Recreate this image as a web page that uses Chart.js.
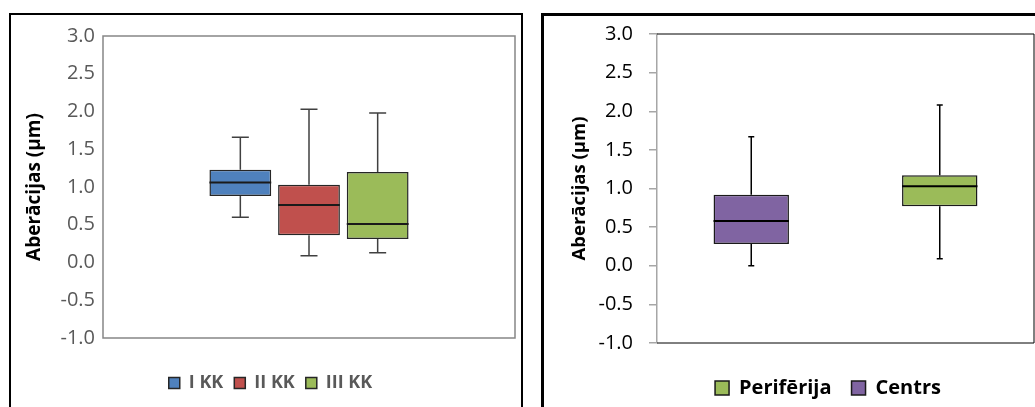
<!DOCTYPE html>
<html>
<head>
<meta charset="utf-8">
<script src="https://cdn.jsdelivr.net/npm/chart.js@4.4.1/dist/chart.umd.min.js"></script>
<style>
  body { margin: 0; background: #fff; width: 1035px; height: 407px; overflow: hidden; position: relative; }
  .panel { position: absolute; box-sizing: border-box; border: 2px solid #000; background: #fff; }
  #panelLeft { left: 9px; top: 13px; width: 514px; height: 420px; }
  #panelRight { left: 541px; top: 13px; width: 520px; height: 420px; border-width: 3px; }
  .wrap { position: absolute; }
  #wrapLeft { left: 12px; top: 16px; width: 508px; height: 400px; }
  #wrapRight { left: 544px; top: 16px; width: 491px; height: 400px; }
</style>
</head>
<body>
<div class="panel" id="panelLeft"></div>
<div class="panel" id="panelRight"></div>
<div class="wrap" id="wrapLeft"><canvas id="kkChart" width="508" height="400"></canvas></div>
<div class="wrap" id="wrapRight"><canvas id="zoneChart" width="491" height="400"></canvas></div>
<script>
// left chart: three groups
const kkLabels = ['I KK', 'II KK', 'III KK'];
const kkMin = [0.60, 0.09, 0.13];
const kkQ1 = [0.88, 0.36, 0.31];
const kkMedian = [1.06, 0.76, 0.51];
const kkQ3 = [1.23, 1.03, 1.20];
const kkMax = [1.66, 2.03, 1.98];
const kkColors = ['#4f81bd', '#c0504d', '#9bbb59'];

// right chart: periphery vs centre (Centrs sits in the first slot)
const zoneLabels = ['Perifērija', 'Centrs'];
const zoneSlot = [1, 0];
const zoneMin = [0.09, 0.00];
const zoneQ1 = [0.77, 0.28];
const zoneMedian = [1.03, 0.58];
const zoneQ3 = [1.17, 0.92];
const zoneMax = [2.08, 1.67];
const zoneColors = ['#9bbb59', '#8064a2'];

const yTicks = [-1.0, -0.5, 0.0, 0.5, 1.0, 1.5, 2.0, 2.5, 3.0];
const yTitle = 'Aberācijas (µm)';
const fontFamily = "'Open Sans', 'Noto Sans', sans-serif";

// whiskers + median line for every floating bar
const boxWhiskers = {
    id: 'boxWhiskers',
    afterDatasetsDraw(chart, args, opts) {
        const ctx = chart.ctx;
        const yScale = chart.scales.y;
        chart.data.datasets.forEach((ds, di) => {
            const meta = chart.getDatasetMeta(di);
            meta.data.forEach((bar, i) => {
                const s = ds.stats[i];
                if (!s) return;
                const x = bar.x;
                const half = bar.width / 2;
                const yQ1 = yScale.getPixelForValue(ds.data[i][0]);
                const yQ3 = yScale.getPixelForValue(ds.data[i][1]);
                const yMin = yScale.getPixelForValue(s.min);
                const yMax = yScale.getPixelForValue(s.max);
                const yMed = yScale.getPixelForValue(s.median);
                ctx.save();
                ctx.strokeStyle = opts.color;
                ctx.lineWidth = opts.lineWidth;
                ctx.beginPath();
                ctx.moveTo(x, yQ3); ctx.lineTo(x, yMax);
                ctx.moveTo(x, yQ1); ctx.lineTo(x, yMin);
                ctx.moveTo(x - opts.cap / 2, yMax); ctx.lineTo(x + opts.cap / 2, yMax);
                ctx.moveTo(x - opts.cap / 2, yMin); ctx.lineTo(x + opts.cap / 2, yMin);
                ctx.stroke();
                ctx.strokeStyle = opts.medianColor;
                ctx.lineWidth = opts.medianWidth;
                ctx.beginPath();
                ctx.moveTo(x - half, yMed); ctx.lineTo(x + half, yMed);
                ctx.stroke();
                ctx.restore();
            });
        });
    }
};

// frame round the plot area
const plotFrame = {
    id: 'plotFrame',
    beforeDatasetsDraw(chart, args, opts) {
        const {ctx, chartArea: a} = chart;
        ctx.save();
        ctx.strokeStyle = opts.color;
        ctx.lineWidth = opts.lineWidth;
        ctx.beginPath();
        if (opts.full) {
            ctx.rect(a.left, a.top, a.right - a.left, a.bottom - a.top);
        } else {
            ctx.moveTo(a.left, a.top); ctx.lineTo(a.right, a.top);
            ctx.lineTo(a.right, a.bottom); ctx.lineTo(a.left, a.bottom);
        }
        ctx.stroke();
        ctx.restore();
    }
};

// nudge the legend sideways (the original is not centred on the canvas)
const legendShift = {
    id: 'legendShift',
    afterLayout(chart, args, opts) {
        const lg = chart.legend;
        if (lg && opts.dx) {
            lg.left += opts.dx;
            lg.right += opts.dx;
        }
    }
};

function yAxis(color, size, width, drawTicks, titlePad, titleSize, titleColor, tickPad) {
    return {
        min: -1, max: 3,
        afterBuildTicks: (s) => { s.ticks = yTicks.map(v => ({value: v})); },
        afterFit: (s) => { s.width = width; s.paddingTop = 0; s.paddingBottom = 0; },
        ticks: {
            color: color, padding: tickPad,
            font: {family: fontFamily, size: size},
            callback: (v) => Number(v).toFixed(1)
        },
        grid: {drawOnChartArea: false, drawTicks: drawTicks, tickLength: 8, color: '#a6a6a6', lineWidth: 1.5},
        border: {display: drawTicks, color: '#a6a6a6', width: 1.5},
        title: {
            display: true, text: yTitle, color: titleColor,
            padding: {top: titlePad, bottom: 0},
            font: {family: fontFamily, size: titleSize, weight: 'bold'}
        }
    };
}

function hiddenX(height) {
    return {
        type: 'category',
        ticks: {display: false},
        grid: {display: false},
        border: {display: false},
        afterFit: (s) => { s.height = height; }
    };
}

new Chart(document.getElementById('kkChart'), {
    type: 'bar',
    data: {
        labels: [''],
        datasets: kkLabels.map((name, i) => ({
            label: name,
            data: [[kkQ1[i], kkQ3[i]]],
            stats: [{min: kkMin[i], median: kkMedian[i], max: kkMax[i]}],
            backgroundColor: kkColors[i],
            borderColor: '#262626',
            borderWidth: 1.5,
            borderSkipped: false
        }))
    },
    options: {
        responsive: false,
        animation: false,
        categoryPercentage: 0.5,
        barPercentage: 0.9,
        layout: {padding: {left: 14, right: 5, top: 20, bottom: 14}},
        scales: {
            x: hiddenX(25),
            y: yAxis('#595959', 20, 77, false, -3, 19, '#000', 8)
        },
        plugins: {
            legend: {
                position: 'bottom',
                labels: {
                    color: '#595959', boxWidth: 11, boxHeight: 11, padding: 11,
                    font: {family: fontFamily, size: 18, weight: 'bold'}
                }
            },
            tooltip: {enabled: false},
            boxWhiskers: {color: '#404040', lineWidth: 1.5, cap: 17, medianColor: '#1a1a1a', medianWidth: 2},
            plotFrame: {color: '#868686', lineWidth: 1.5, full: true}
        }
    },
    plugins: [plotFrame, boxWhiskers]
});

new Chart(document.getElementById('zoneChart'), {
    type: 'bar',
    data: {
        labels: ['', ''],
        datasets: zoneLabels.map((name, i) => {
            const data = [null, null];
            const stats = [null, null];
            data[zoneSlot[i]] = [zoneQ1[i], zoneQ3[i]];
            stats[zoneSlot[i]] = {min: zoneMin[i], median: zoneMedian[i], max: zoneMax[i]};
            return {
                label: name,
                data: data,
                stats: stats,
                grouped: false,
                backgroundColor: zoneColors[i],
                borderColor: '#1a1a1a',
                borderWidth: 1.5,
                borderSkipped: false
            };
        })
    },
    options: {
        responsive: false,
        animation: false,
        categoryPercentage: 0.8,
        barPercentage: 0.5,
        layout: {padding: {left: 0, right: 1, top: 18, bottom: 8}},
        scales: {
            x: hiddenX(15),
            y: yAxis('#000', 20, 113, true, 25, 18.5, '#000', 16)
        },
        plugins: {
            legend: {
                position: 'bottom',
                labels: {
                    color: '#000', boxWidth: 14, boxHeight: 14, padding: 20,
                    font: {family: fontFamily, size: 20, weight: 'bold'}
                }
            },
            tooltip: {enabled: false},
            legendShift: {dx: 39},
            boxWhiskers: {color: '#000', lineWidth: 1.5, cap: 6, medianColor: '#000', medianWidth: 2},
            plotFrame: {color: '#000', lineWidth: 1, full: false}
        }
    },
    plugins: [plotFrame, boxWhiskers, legendShift]
});
</script>
</body>
</html>
